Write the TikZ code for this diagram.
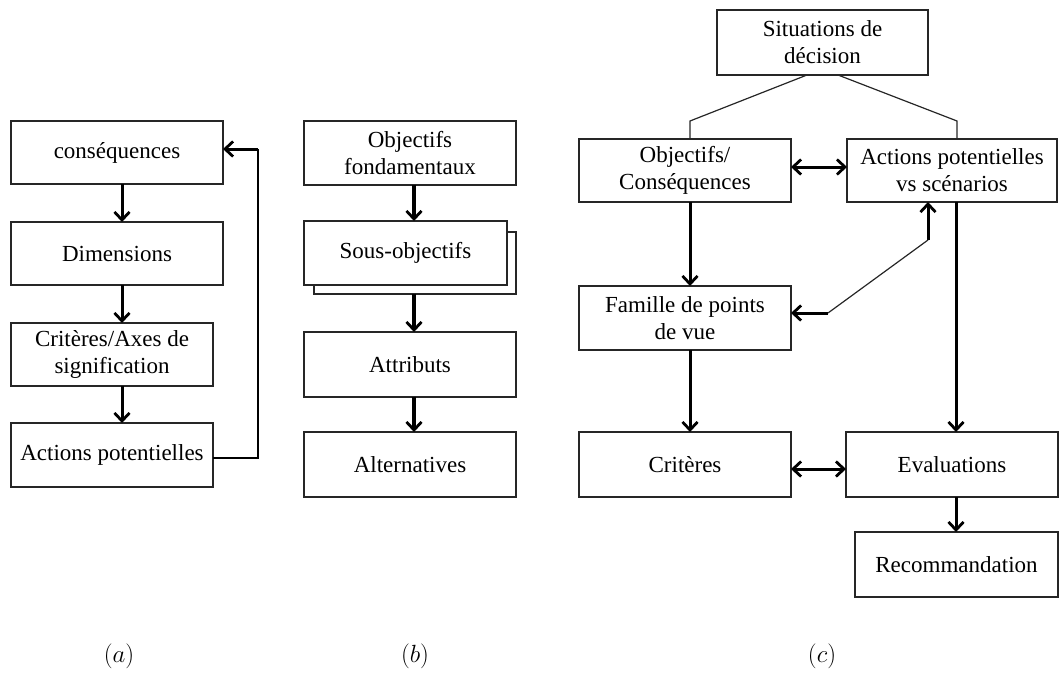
\documentclass[tikz,border=0pt]{standalone}
\usepackage{fontspec}
\setmainfont{Liberation Serif}
\usetikzlibrary{arrows.meta}
\begin{document}
\begin{tikzpicture}[x=1pt,y=-1pt,
  box/.style={draw=black!85, line width=1.3pt, fill=white, rectangle, inner sep=0pt, outer sep=0pt,
     align=center, font=\fontsize{23}{27}\selectfont},
  arr/.style={line width=3pt, -{Straight Barb[length=8pt,width=15pt,line width=2.8pt]}},
  darr/.style={line width=3pt, {Straight Barb[length=8pt,width=15pt,line width=2.8pt]}-{Straight Barb[length=8pt,width=15pt,line width=2.8pt]}},
  thin/.style={line width=1.2pt, draw=black!85},
  lab/.style={font=\fontsize{28}{32}\selectfont}]
\useasboundingbox (0,0) rectangle (1059,693);
% ---------- panel (a)
\node[box, minimum width=212pt, minimum height=63pt] (a1) at (117,152.5) {conséquences};
\node[box, minimum width=212pt, minimum height=63pt] (a2) at (117,253.5) {Dimensions};
\node[box, minimum width=202pt, minimum height=63pt] (a3) at (112,354.5) {Critères/Axes de\\signification};
\node[box, minimum width=202pt, minimum height=64pt] (a4) at (112,455) {Actions potentielles};
\coordinate (ax) at (122,0);
\draw[arr] (a1.south -| ax) -- (a2.north -| ax);
\draw[arr] (a2.south -| ax) -- (a3.north -| ax);
\draw[arr] (a3.south -| ax) -- (a4.north -| ax);
\coordinate (fb) at (258,149);
\coordinate (fbs) at (258,458);
\draw[line width=1.8pt] (a4.east |- fbs) -- (fbs) -- (fb);
\draw[arr] (fb) -- (a1.east |- fb);
\node[lab] (la) at (119,656) {$(a)$};
% ---------- panel (b)
\node[box, minimum width=212pt, minimum height=64pt] (b1) at (410,153) {Objectifs\\fondamentaux};
\node[box, minimum width=202pt, minimum height=62pt] (bsh) at (415,263) {};
\node[box, minimum width=203pt, minimum height=64pt] (b2) at (405.5,253) {Sous-objectifs};
\node[box, minimum width=212pt, minimum height=65pt] (b3) at (410,364.5) {Attributs};
\node[box, minimum width=212pt, minimum height=65pt] (b4) at (410,464.5) {Alternatives};
\coordinate (bx) at (414,0);
\draw[arr, line width=3.6pt] (b1.south -| bx) -- (b2.north -| bx);
\draw[arr, line width=3.6pt] (bsh.south -| bx) -- (b3.north -| bx);
\draw[arr, line width=3.6pt] (b3.south -| bx) -- (b4.north -| bx);
\node[lab] (lb) at (415,656) {$(b)$};
% ---------- panel (c)
\node[box, minimum width=211pt, minimum height=65pt] (c0) at (822.5,42.5) {Situations de\\décision};
\node[box, minimum width=212pt, minimum height=63pt] (c1) at (685,170.5) {Objectifs/\\Conséquences};
\node[box, minimum width=210pt, minimum height=63pt] (c2) at (952,170.5) {Actions potentielles\\vs scénarios};
\node[box, minimum width=212pt, minimum height=64pt] (c3) at (685,318) {Famille de points\\de vue};
\node[box, minimum width=212pt, minimum height=65pt] (c4) at (685,464.5) {Critères};
\node[box, minimum width=212pt, minimum height=65pt] (c5) at (952,464.5) {Evaluations};
\node[box, minimum width=203pt, minimum height=65pt] (c6) at (956.5,564.5) {Recommandation};
% links from the top box
\coordinate (sl) at (807,0);
\coordinate (sr) at (838,0);
\coordinate (kl) at (690,121);
\coordinate (kr) at (957,121);
\draw[thin] (c0.south -| sl) -- (kl) -- (c1.north -| kl);
\draw[thin] (c0.south -| sr) -- (kr) -- (c2.north -| kr);
% horizontal double arrows
\coordinate (h1) at (0,167);
\coordinate (h2) at (0,469);
\draw[darr] (c1.east |- h1) -- (c2.west |- h1);
\draw[darr] (c4.east |- h2) -- (c5.west |- h2);
% vertical arrows
\coordinate (vl) at (690,0);
\coordinate (vr) at (956,0);
\draw[arr] (c1.south -| vl) -- (c3.north -| vl);
\draw[arr] (c3.south -| vl) -- (c4.north -| vl);
\draw[arr] (c2.south -| vr) -- (c5.north -| vr);
\draw[arr] (c5.south -| vr) -- (c6.north -| vr);
% Famille <-> Actions link
\coordinate (p1) at (928,240);
\coordinate (p2) at (828,313);
\draw[arr] (p1) -- (c2.south -| p1);
\draw[thin] (p1) -- (p2);
\draw[arr] (p2) -- (c3.east |- p2);
\node[lab] (lc) at (822,656) {$(c)$};
\end{tikzpicture}
\end{document}
